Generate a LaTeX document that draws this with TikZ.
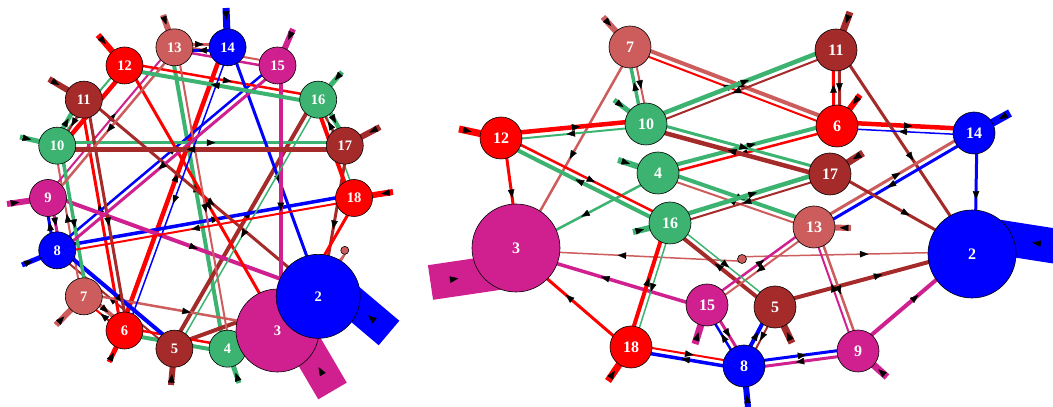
\documentclass[tikz,border=0pt]{standalone}
\usepackage{fontspec}
\setmainfont{Liberation Serif}
\usepackage{tikz}
\usetikzlibrary{
  arrows.meta,
  calc,
  decorations.markings,
  backgrounds
}
\definecolor{netblue}{HTML}{0000FF}
\definecolor{netviolet}{HTML}{D02090}
\definecolor{netgreen}{HTML}{3CB371}
\definecolor{netbrown}{HTML}{A52A2A}
\definecolor{netred}{HTML}{FF0000}
\definecolor{netrose}{HTML}{CD5C5C}
\newcommand{\ringfont}{\bfseries\fontsize{14.5}{15}\selectfont}
\newcommand{\freefont}{\bfseries\fontsize{16}{16}\selectfont}
\tikzset{
  vertex/.style={
    circle, draw=black, fill=#1, line width=0.6pt, inner sep=0pt,
    text=white
  },
  midarrow/.style={
    postaction={decorate},
    decoration={markings, mark=at position #1 with {\arrow[black]{Triangle[length=8.5pt, width=6.5pt, line width=0.4pt]}}}
  },
  link/.style={
    line width=#1pt, midarrow=0.55,
    /utils/exec={\pgfmathsetmacro\linkshift{#1/2+1.5}},
    to path={($(\tikztostart)!\linkshift pt!90:(\tikztotarget)$) -- ($(\tikztotarget)!\linkshift pt!-90:(\tikztostart)$)}
  },
  loopbar/.style 2 args={line width=#1pt, midarrow=#2},
}

\begin{document}
\begin{tikzpicture}[x=1pt, y=1pt]
\useasboundingbox (0,0) rectangle (1053,407);
\clip (0,0) rectangle (1053,407);

% circle layout
\begin{scope}[shift={(201,209)}]
\foreach \n/\clr/\d in {18/netred/37, 17/netbrown/37, 16/netgreen/37, 15/netviolet/37, 14/netblue/37, 13/netrose/37, 12/netred/37, 11/netbrown/37, 10/netgreen/37, 9/netviolet/37, 8/netblue/37, 7/netrose/37, 6/netred/37, 5/netbrown/37, 4/netgreen/37, 3/netviolet/83, 2/netblue/84}
  \node[vertex=\clr, minimum size=\d pt, font=\ringfont] (L\n) at ({(18-\n)*20}:153) {\n};
\node[vertex=netrose, minimum size=8pt] (L1) at (340:153) {};
\end{scope}

% free layout
\node[vertex=netred, minimum size=42pt, font=\freefont] (R18) at (631,60) {18};
\node[vertex=netbrown, minimum size=42pt, font=\freefont] (R17) at (830,233) {17};
\node[vertex=netgreen, minimum size=42pt, font=\freefont] (R16) at (670,184) {16};
\node[vertex=netviolet, minimum size=42pt, font=\freefont] (R15) at (707,102) {15};
\node[vertex=netblue, minimum size=42pt, font=\freefont] (R14) at (974,274) {14};
\node[vertex=netrose, minimum size=42pt, font=\freefont] (R13) at (814,180) {13};
\node[vertex=netred, minimum size=42pt, font=\freefont] (R12) at (501,269) {12};
\node[vertex=netbrown, minimum size=42pt, font=\freefont] (R11) at (836,357) {11};
\node[vertex=netgreen, minimum size=42pt, font=\freefont] (R10) at (646,283) {10};
\node[vertex=netviolet, minimum size=42pt, font=\freefont] (R9) at (858,56) {9};
\node[vertex=netblue, minimum size=42pt, font=\freefont] (R8) at (744,41) {8};
\node[vertex=netrose, minimum size=42pt, font=\freefont] (R7) at (630,360) {7};
\node[vertex=netred, minimum size=42pt, font=\freefont] (R6) at (837,281) {6};
\node[vertex=netbrown, minimum size=42pt, font=\freefont] (R5) at (775,100) {5};
\node[vertex=netgreen, minimum size=42pt, font=\freefont] (R4) at (658,234) {4};
\node[vertex=netviolet, minimum size=88pt, font=\freefont] (R3) at (516,159) {3};
\node[vertex=netblue, minimum size=88pt, font=\freefont] (R2) at (972,153) {2};
\node[vertex=netrose, minimum size=9pt] (R1) at (742,148) {};

\begin{scope}[on background layer]
% self loops
\foreach \n/\clr/\w/\x/\y in {13/netrose/6/163/392, 14/netblue/7/226/399, 12/netred/6/98/372, 15/netviolet/6/293/378, 11/netbrown/6/49/328, 16/netgreen/5/342/335, 10/netgreen/5/20/270, 17/netbrown/6/380/280, 9/netviolet/6/7/203, 18/netred/6/393/215, 8/netblue/5/22/142, 7/netrose/6/56/82, 6/netred/5/109/45, 5/netbrown/6/171/22, 4/netgreen/5/239/24}{
  \coordinate (eL\n) at (\x,\y);
  \draw[loopbar={\w}{0.3}, \clr] (eL\n) -- (L\n.center);
}
\foreach \n/\clr/\w/\x/\y in {7/netrose/6/603/390, 11/netbrown/7/850/395, 10/netgreen/5/614/307, 6/netred/6/860/312, 12/netred/7/459/278, 14/netblue/8/1010/294, 4/netgreen/6/618/247, 17/netbrown/7/863/254, 16/netgreen/6/633/175, 13/netrose/6/851/179, 15/netviolet/7/695/63, 5/netbrown/7/792/64, 18/netred/7/608/26, 9/netviolet/7/887/30, 8/netblue/6/748/0}{
  \coordinate (eR\n) at (\x,\y);
  \draw[loopbar={\w}{0.3}, \clr] (eR\n) -- (R\n.center);
}
\coordinate (eL3) at (332.5,16);
\coordinate (iL3) at (292.5,84.3);
\draw[loopbar={33}{0.35}, netviolet] (eL3) -- (iL3);
\coordinate (eL2) at (389,74);
\coordinate (iL2) at (331,123);
\draw[loopbar={32}{0.36}, netblue] (eL2) -- (iL2);
\coordinate (eR3) at (430.5,124.5);
\coordinate (iR3) at (515,137);
\draw[loopbar={35}{0.33}, netviolet] (eR3) -- (iR3);
\coordinate (eR2) at (1080,157);
\coordinate (iR2) at (974,173.6);
\draw[loopbar={35}{0.45}, netblue] (eR2) -- (iR2);

% directed links, same list for both layouts
\foreach \p in {L,R}{
  \foreach \s/\t/\clr/\w in {1/2/netrose/1.5, 1/3/netrose/1.5,
      4/3/netgreen/2.5, 4/6/netgreen/4, 4/13/netgreen/4,
      5/2/netbrown/4, 5/8/netbrown/2, 5/16/netbrown/4,
      6/4/netred/2.5, 6/7/netred/2, 6/11/netred/3, 6/14/netred/4.5,
      7/3/netrose/2.5, 7/6/netrose/4, 7/10/netrose/2,
      8/5/netblue/4, 8/9/netblue/3, 8/15/netblue/2.5, 8/18/netblue/3.5,
      9/2/netviolet/4, 9/8/netviolet/3, 9/13/netviolet/2,
      10/7/netgreen/3.5, 10/11/netgreen/4.5, 10/12/netgreen/2, 10/17/netgreen/3,
      11/2/netbrown/3, 11/6/netbrown/3, 11/10/netbrown/2,
      12/3/netred/3, 12/10/netred/4.5, 12/16/netred/2.5,
      13/4/netrose/2, 13/9/netrose/2.5, 13/14/netrose/3, 13/15/netrose/2,
      14/2/netblue/3, 14/6/netblue/1.5, 14/13/netblue/3,
      15/3/netviolet/3.5, 15/8/netviolet/3, 15/13/netviolet/2.5,
      16/5/netgreen/1.5, 16/12/netgreen/4, 16/17/netgreen/4.5, 16/18/netgreen/1.5,
      17/2/netbrown/3, 17/10/netbrown/4.5, 17/16/netbrown/2,
      18/3/netred/3, 18/8/netred/2, 18/16/netred/4}
    \draw[link=\w, \clr] (\p\s) to (\p\t);
}
\end{scope}

\end{tikzpicture}
\end{document}
